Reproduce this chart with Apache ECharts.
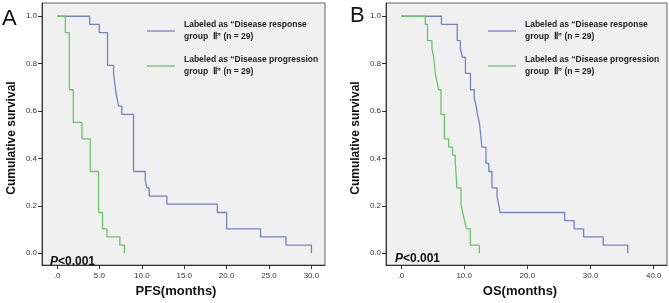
<!DOCTYPE html>
<html>
<head>
<meta charset="utf-8">
<script src="https://cdn.jsdelivr.net/npm/echarts@6/dist/echarts.min.js"></script>
<style>
  html, body { margin: 0; padding: 0; background: #fff; }
  #chart { width: 669px; height: 303px; }
</style>
</head>
<body>
<div id="chart"></div>
<script>
// panel A: PFS, step points (time, survival after the drop)
var pfsRespTime = [0, 3.85, 4.98, 5.96, 6.67, 6.9, 7.07, 7.26, 7.65, 9.02, 10.4, 10.6, 10.87, 12.96, 18.9, 20.0, 24.0, 27.0, 30.0];
var pfsRespSurv = [1, 0.966, 0.931, 0.793, 0.759, 0.690, 0.655, 0.621, 0.586, 0.345, 0.310, 0.276, 0.241, 0.207, 0.172, 0.103, 0.069, 0.034, 0];
var pfsProgTime = [0, 0.98, 1.45, 1.92, 2.94, 3.92, 4.9, 5.37, 5.89, 7.4, 7.95];
var pfsProgSurv = [1, 0.931, 0.690, 0.552, 0.483, 0.345, 0.172, 0.103, 0.069, 0.034, 0];

// panel B: OS
var osRespTime = [0, 6.4, 8.9, 9.4, 9.7, 10.2, 11.0, 11.6, 11.9, 12.1, 12.4, 12.55, 12.8, 13.45, 13.9, 14.4, 15.2, 15.45, 15.7, 25.9, 27.4, 28.9, 32.0, 35.9];
var osRespSurv = [1, 0.966, 0.897, 0.862, 0.828, 0.759, 0.690, 0.655, 0.621, 0.586, 0.552, 0.517, 0.448, 0.379, 0.345, 0.276, 0.241, 0.207, 0.172, 0.138, 0.103, 0.069, 0.034, 0];
var osProgTime = [0, 3.85, 4.2, 4.9, 5.17, 5.43, 5.7, 5.96, 6.33, 6.86, 7.54, 8.17, 8.6, 8.86, 9.5, 9.76, 10.05, 10.35, 10.97, 12.4];
var osProgSurv = [1, 0.966, 0.897, 0.862, 0.828, 0.759, 0.724, 0.690, 0.586, 0.483, 0.448, 0.414, 0.379, 0.276, 0.207, 0.172, 0.138, 0.103, 0.034, 0];

var pfsTicks = [0, 5, 10, 15, 20, 25, 30];
var osTicks = [0, 10, 20, 30, 40];
var survTicks = [0, 0.2, 0.4, 0.6, 0.8, 1.0];

var respName = 'Labeled as \u201CDisease response group \u2161\u201D (n = 29)';
var progName = 'Labeled as \u201CDisease progression group \u2161\u201D (n = 29)';

var blue = '#7383c4';
var green = '#6cc46c';
var sans = "'Liberation Sans', Arial, sans-serif";

function pairs(t, s) {
  return t.map(function (v, i) { return [v, s[i]]; });
}

function xAxis(grid, min, max, ticks, name, shift) {
  return {
    type: 'value', gridIndex: grid, min: min, max: max,
    axisLine: { show: true, onZero: false, lineStyle: { color: '#333' } },
    axisTick: { show: true, length: 4, customValues: ticks, lineStyle: { color: '#333' } },
    axisLabel: {
      customValues: ticks, fontSize: 8, color: '#333', margin: 7, fontFamily: sans,
      formatter: function (v) { return v === 0 ? '.0' : v.toFixed(1); }
    },
    splitLine: { show: false },
    name: name, nameLocation: 'middle', nameGap: 11,
    nameTextStyle: { fontSize: 13, fontWeight: 'bold', color: '#111', fontFamily: sans, padding: [0, shift, 0, 0] }
  };
}

function yAxis(grid) {
  return {
    type: 'value', gridIndex: grid, min: -0.05, max: 1.056,
    axisLine: { show: true, onZero: false, lineStyle: { color: '#333' } },
    axisTick: { show: true, length: 4, customValues: survTicks, lineStyle: { color: '#333' } },
    axisLabel: {
      customValues: survTicks, fontSize: 8, color: '#333', margin: 5, fontFamily: sans,
      formatter: function (v) { return v.toFixed(1); }
    },
    splitLine: { show: false },
    name: 'Cumulative survival', nameLocation: 'middle', nameGap: 24,
    nameTextStyle: { fontSize: 12, fontWeight: 'bold', color: '#111', fontFamily: sans, padding: [0, 8, 0, 0] }
  };
}

function legend(left) {
  return {
    left: left, top: 19, padding: 0, orient: 'vertical', selectedMode: false,
    icon: 'rect', itemWidth: 28, itemHeight: 1.3, itemGap: 11,
    data: [respName, progName],
    formatter: function (n) { return n.replace(' group', '\ngroup '); },
    textStyle: { fontSize: 8.5, fontWeight: 'bold', color: '#222', fontFamily: sans, lineHeight: 12, padding: [0, 0, 0, 4] }
  };
}

function line(name, data, axis, color) {
  return {
    name: name, type: 'line', step: 'end', symbol: 'none',
    xAxisIndex: axis, yAxisIndex: axis,
    data: data, color: color,
    lineStyle: { width: 1.3, color: color }
  };
}

var chart = echarts.init(document.getElementById('chart'), null, { renderer: 'canvas' });
chart.setOption({
  animation: false,
  backgroundColor: '#fff',
  grid: [
    { left: 42, top: 3, width: 283, height: 272, show: true, backgroundColor: '#f0f0f0', borderColor: '#666', borderWidth: 1 },
    { left: 386, top: 3, width: 281, height: 272, show: true, backgroundColor: '#f0f0f0', borderColor: '#666', borderWidth: 1 }
  ],
  xAxis: [
    xAxis(0, -1.77, 31.6, pfsTicks, 'PFS(months)', 15),
    xAxis(1, -2.37, 42.1, osTicks, 'OS(months)', 13)
  ],
  yAxis: [yAxis(0), yAxis(1)],
  legend: [legend(147), legend(488)],
  series: [
    line(respName, pairs(pfsRespTime, pfsRespSurv), 0, blue),
    line(progName, pairs(pfsProgTime, pfsProgSurv), 0, green),
    line(respName, pairs(osRespTime, osRespSurv), 1, blue),
    line(progName, pairs(osProgTime, osProgSurv), 1, green)
  ],
  graphic: [
    { type: 'text', left: 2, top: 8, style: { text: 'A', fontSize: 22, fill: '#111', fontFamily: sans } },
    { type: 'text', left: 350, top: 5, style: { text: 'B', fontSize: 22, fill: '#111', fontFamily: sans } },
    { type: 'text', left: 50, top: 256, style: {
        text: '{i|P}<0.001', fontSize: 12, fontWeight: 'bold', fill: '#111', fontFamily: sans,
        rich: { i: { fontStyle: 'italic', fontWeight: 'bold', fontSize: 12, fontFamily: sans } } } },
    { type: 'text', left: 395, top: 253, style: {
        text: '{i|P}<0.001', fontSize: 12, fontWeight: 'bold', fill: '#111', fontFamily: sans,
        rich: { i: { fontStyle: 'italic', fontWeight: 'bold', fontSize: 12, fontFamily: sans } } } }
  ]
});
</script>
</body>
</html>
